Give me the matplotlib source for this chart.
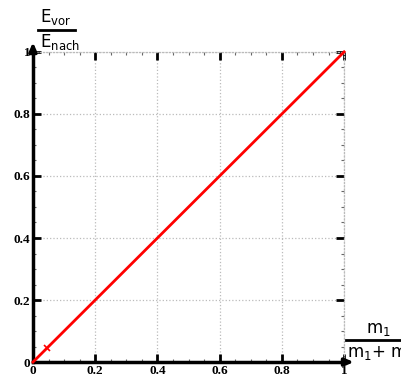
import matplotlib.pyplot as plt
from matplotlib.lines import Line2D
from matplotlib.ticker import MultipleLocator

# data: E_vor/E_nach over m1/(m1+m2)
x_vals = [0.0, 1.0]
y_vals = [0.0, 1.0]
mark_x = [0.045]
mark_y = [0.045]
tick_vals = [0, 0.2, 0.4, 0.6, 0.8, 1]
tick_labels = ['0', '0.2', '0.4', '0.6', '0.8', '1']

plt.rcParams['mathtext.fontset'] = 'dejavusans'
plt.rcParams['mathtext.default'] = 'regular'

fig = plt.figure(figsize=(4.02, 3.76), dpi=100)
ax = fig.add_axes([0.082, 0.037, 0.774, 0.825])

ax.plot(x_vals, y_vals, color='red', lw=2, clip_on=False, zorder=3)
ax.plot(mark_x, mark_y, 'x', color='red', ms=4, mew=1.2, zorder=4)

ax.set_xlim(0, 1)
ax.set_ylim(0, 1)
ax.set_xticks(tick_vals)
ax.set_xticklabels(tick_labels)
ax.set_yticks(tick_vals)
ax.set_yticklabels(tick_labels)
ax.xaxis.set_minor_locator(MultipleLocator(0.05))
ax.yaxis.set_minor_locator(MultipleLocator(0.05))

ax.grid(True, which='major', color='#bbbbbb', ls=':', lw=0.9)
ax.tick_params(which='major', direction='in', length=6, width=2, top=True, right=True,
               labelsize=9.5, pad=2)
ax.tick_params(which='minor', direction='in', length=2.5, width=0.8, top=True, right=True,
               color='#666666')
for lab in ax.get_xticklabels() + ax.get_yticklabels():
    lab.set_fontweight('bold')
    lab.set_family('Liberation Serif')

for s in ['top', 'right']:
    ax.spines[s].set_color('#bbbbbb')
    ax.spines[s].set_linestyle(':')
    ax.spines[s].set_linewidth(0.9)
for s in ['left', 'bottom']:
    ax.spines[s].set_linewidth(2.5)

# arrows at the axis ends
ax.annotate('', xy=(0, 1.04), xytext=(0, 0.99), xycoords='axes fraction',
            arrowprops=dict(arrowstyle='-|>,head_length=0.5,head_width=0.22', color='black', lw=2.5))
ax.annotate('', xy=(1.04, 0), xytext=(0.99, 0), xycoords='axes fraction',
            arrowprops=dict(arrowstyle='-|>,head_length=0.5,head_width=0.22', color='black', lw=2.5))

# y label as hand-made fraction
fig.text(0.138, 0.955, r'$E_{vor}$', fontsize=12, ha='center', va='center')
fig.add_artist(Line2D([0.094, 0.187], [0.920, 0.920], color='black', lw=2))
fig.text(0.10, 0.888, r'$E_{nach}$', fontsize=12, ha='left', va='center')

# x label as hand-made fraction, cut at the right edge like the original
fig.text(0.94, 0.125, r'$m_1$', fontsize=12, ha='center', va='center')
fig.add_artist(Line2D([0.861, 1.0], [0.096, 0.096], color='black', lw=2))
fig.text(0.862, 0.062, r'$m_1$+ m$_2$', fontsize=12, ha='left', va='center')

fig.savefig('out.png', dpi=100)
